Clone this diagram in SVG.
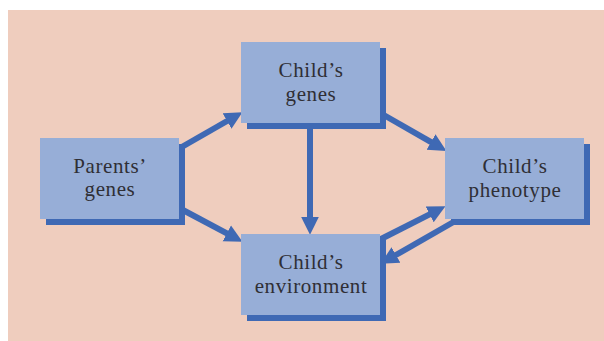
<svg xmlns="http://www.w3.org/2000/svg" width="604" height="341" viewBox="0 0 604 341">
  <style>
    .shadow { fill: #3f69b4; }
    .box { fill: #97aed7; }
    .lbl { font-family: "Liberation Serif", "Times New Roman", serif; font-size: 21px; fill: #2f2f35; text-anchor: middle; letter-spacing: 0.6px; }
    .conn { stroke: #3f69b4; stroke-width: 6; fill: none; marker-end: url(#ah); }
  </style>
  <defs>
    <marker id="ah" markerUnits="userSpaceOnUse" markerWidth="20" markerHeight="20" viewBox="0 -9 18 18" refX="1" refY="0" orient="auto">
      <path d="M0,-8 L16,0 L0,8 z" fill="#3f69b4"/>
    </marker>
  </defs>
  <rect x="8" y="10" width="596" height="331" fill="#efcdbe"/>
  <g id="connectors">
    <path class="conn" d="M180,148 L228,120.5"/>
    <path class="conn" d="M181,209 L227.8,233.9"/>
    <path class="conn" d="M310,123 L310,218"/>
    <path class="conn" d="M382,114 L432,142.6"/>
    <path class="conn" d="M379,240 L430.6,213.8"/>
    <path class="conn" d="M457,220 L395,255.5"/>
  </g>
  <g id="parents-genes">
    <rect class="shadow" x="46" y="144" width="139" height="81"/>
    <rect class="box" x="40" y="138" width="139" height="81"/>
    <text class="lbl" x="110" y="173">Parents’</text>
    <text class="lbl" x="110" y="196">genes</text>
  </g>
  <g id="childs-genes">
    <rect class="shadow" x="247" y="48" width="139" height="81"/>
    <rect class="box" x="241" y="42" width="139" height="81"/>
    <text class="lbl" x="311" y="77">Child’s</text>
    <text class="lbl" x="311" y="101">genes</text>
  </g>
  <g id="childs-phenotype">
    <rect class="shadow" x="451" y="144" width="139" height="81"/>
    <rect class="box" x="445" y="138" width="139" height="81"/>
    <text class="lbl" x="515" y="173">Child’s</text>
    <text class="lbl" x="515" y="197">phenotype</text>
  </g>
  <g id="childs-environment">
    <rect class="shadow" x="247" y="240" width="139" height="81"/>
    <rect class="box" x="241" y="234" width="139" height="81"/>
    <text class="lbl" x="311" y="269">Child’s</text>
    <text class="lbl" x="311" y="293">environment</text>
  </g>
</svg>
